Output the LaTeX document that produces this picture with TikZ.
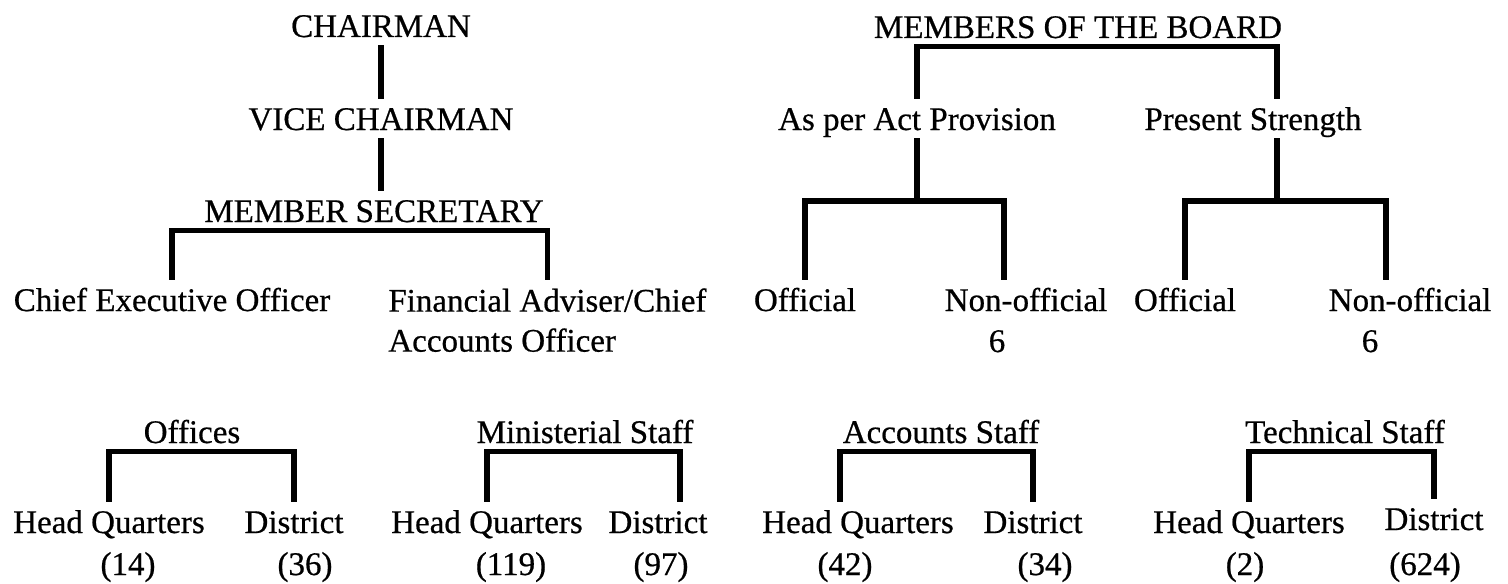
\documentclass[tikz,border=0pt]{standalone}
\usepackage{fontspec}
\newfontfamily\chartfont{Liberation Serif}[FakeBold=0.6]
\begin{document}
\begin{tikzpicture}[x=0.5pt,y=-0.5pt,
    txt/.style={inner sep=4pt, font=\chartfont\fontsize{16.5}{20}\selectfont},
    lbl/.style={txt, anchor=base, text height=11.5pt, text depth=0pt},
    link/.style={line width=2.6pt}]
    \useasboundingbox (0,0) rectangle (1508,583);
    \node[lbl] (chair) at (381,37) {CHAIRMAN};
    \node[lbl] (vice) at (381,130) {VICE CHAIRMAN};
    \node[lbl] (msec) at (374,222) {MEMBER SECRETARY};
    \node[lbl] (ceo) at (172,311) {Chief Executive Officer};
    \node[txt, anchor=north west, align=left] (fin) at (380,280) {Financial Adviser/Chief\\Accounts Officer};
    \node[lbl] (members) at (1078,38) {MEMBERS OF THE BOARD};
    \node[lbl] (asper) at (917,130) {As per Act Provision};
    \node[lbl] (pres) at (1253,130) {Present Strength};
    \node[lbl] (off1) at (805,311) {Official};
    \node[lbl] (non1) at (1026,311) {Non-official};
    \node[lbl] (off2) at (1185,311) {Official};
    \node[lbl] (non2) at (1410,311) {Non-official};
    \node[lbl] (six1) at (997,352) {6};
    \node[lbl] (six2) at (1370,352) {6};
    \node[lbl] (offc) at (192,443) {Offices};
    \node[lbl] (hq1) at (109,533) {Head Quarters};
    \node[lbl] (d1) at (294,533) {District};
    \node[lbl] (n14) at (128,575) {(14)};
    \node[lbl] (n36) at (305,575) {(36)};
    \node[lbl] (mins) at (585,443) {Ministerial Staff};
    \node[lbl] (hq2) at (487,533) {Head Quarters};
    \node[lbl] (d2) at (658,533) {District};
    \node[lbl] (n119) at (511,575) {(119)};
    \node[lbl] (n97) at (661,575) {(97)};
    \node[lbl] (accs) at (941,443) {Accounts Staff};
    \node[lbl] (hq3) at (858,533) {Head Quarters};
    \node[lbl] (d3) at (1033,533) {District};
    \node[lbl] (n42) at (845,575) {(42)};
    \node[lbl] (n34) at (1045,575) {(34)};
    \node[lbl] (tech) at (1345,443) {Technical Staff};
    \node[lbl] (hq4) at (1249,533) {Head Quarters};
    \node[lbl] (d4) at (1434,530) {District};
    \node[lbl] (n2) at (1245,575) {(2)};
    \node[lbl] (n624) at (1425,575) {(624)};
    \coordinate (aj) at (asper.south |- 0,201);
    \coordinate[xshift=12pt] (pj) at (pres.south |- 0,201);
    \draw[link] (chair) -- (vice);
    \draw[link] (vice) -- (vice.south |- msec.north);
    \draw[link] (ceo.north) |- (msec.south) -| (fin.north);
    \draw[link] (asper.north) |- (members.south) -| ([xshift=12pt]pres.north);
    \draw[link] (asper.south) -- (aj);
    \draw[link] ([xshift=12pt]pres.south) -- (pj);
    \draw[link] (off1.north) |- (aj) -| ([xshift=-11pt]non1.north);
    \draw[link] (off2.north) |- (pj) -| ([xshift=-12pt]non2.north);
    \draw[link] (hq1.north) |- (offc.south) -| (d1.north);
    \draw[link] (hq2.north) |- (mins.south) -| ([xshift=11pt]d2.north);
    \draw[link] ([xshift=-9pt]hq3.north) |- (accs.south) -| (d3.north);
    \draw[link] (hq4.north) |- (tech.south) -| (d4.north);
\end{tikzpicture}
\end{document}
